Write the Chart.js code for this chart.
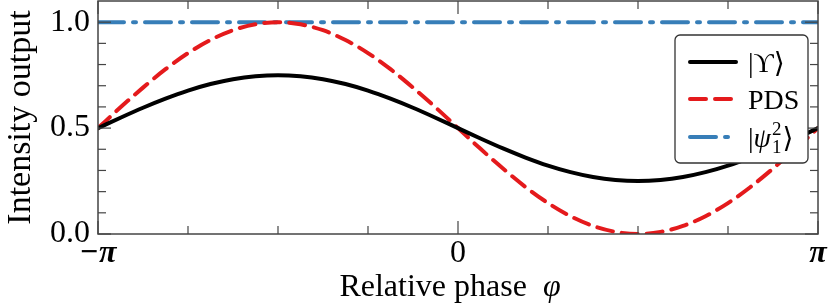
<!DOCTYPE html>
<html>
<head>
<meta charset="utf-8">
<title>Intensity output vs relative phase</title>
<script src="https://cdn.jsdelivr.net/npm/chart.js@4.4.1/dist/chart.umd.min.js"></script>
<style>
  html, body { margin: 0; padding: 0; background: #fff; }
  #wrap { width: 830px; height: 305px; position: relative; }
</style>
</head>
<body>
<div id="wrap"><canvas id="phaseChart"></canvas></div>
<script>
// relative phase in units of pi, read every pi/16
const phase = [
  -1, -0.9375, -0.875, -0.8125, -0.75, -0.6875, -0.625, -0.5625,
  -0.5, -0.4375, -0.375, -0.3125, -0.25, -0.1875, -0.125, -0.0625,
  0, 0.0625, 0.125, 0.1875, 0.25, 0.3125, 0.375, 0.4375,
  0.5, 0.5625, 0.625, 0.6875, 0.75, 0.8125, 0.875, 0.9375, 1
];
const upsilonValues = [
  0.500, 0.549, 0.596, 0.639, 0.677, 0.708, 0.731, 0.745,
  0.750, 0.745, 0.731, 0.708, 0.677, 0.639, 0.596, 0.549,
  0.500, 0.451, 0.404, 0.361, 0.323, 0.292, 0.269, 0.255,
  0.250, 0.255, 0.269, 0.292, 0.323, 0.361, 0.404, 0.451, 0.500
];
const pdsValues = [
  0.500, 0.598, 0.691, 0.778, 0.854, 0.916, 0.962, 0.990,
  1.000, 0.990, 0.962, 0.916, 0.854, 0.778, 0.691, 0.598,
  0.500, 0.402, 0.309, 0.222, 0.146, 0.084, 0.038, 0.010,
  0.000, 0.010, 0.038, 0.084, 0.146, 0.222, 0.309, 0.402, 0.500
];
const psiPhase = [-1, 1];
const psiValues = [1.0, 1.0];

const seriesNames = ['|ϒ⟩', 'PDS', '|ψ₁²⟩'];
const xTickValues = [-1, 0, 1];
const xTickLabels = ['−π', '0', 'π'];
const yTickValues = [0, 0.5, 1.0];
const yTickLabels = ['0.0', '0.5', '1.0'];
const xTitle = 'Relative phase';
const xTitleSymbol = 'φ';
const yTitle = 'Intensity output';

const SERIF = '"Liberation Serif", "DejaVu Serif", "DejaVu Sans", serif';
const AXIS_COLOR = '#444';

function findLabel(values, labels, v) {
  const i = values.findIndex(t => Math.abs(t - v) < 1e-6);
  return i >= 0 ? labels[i] : '';
}

function toPoints(xs, ys) {
  return xs.map((x, i) => ({ x: x, y: ys[i] }));
}

// inward ticks on all four sides, box frame, legend and x title
const framePlugin = {
  id: 'frameTicks',
  afterDatasetsDraw(chart) {
    const { ctx, chartArea: a, scales } = chart;
    const xs = scales.x, ys = scales.y;
    ctx.save();
    ctx.strokeStyle = AXIS_COLOR;
    ctx.lineWidth = 1.2;
    const seg = (x1, y1, x2, y2) => {
      ctx.beginPath(); ctx.moveTo(x1, y1); ctx.lineTo(x2, y2); ctx.stroke();
    };
    xs.ticks.forEach(t => {
      const px = xs.getPixelForValue(t.value);
      const len = findLabel(xTickValues, xTickLabels, t.value) ? 13 : 8;
      seg(px, a.bottom, px, a.bottom - len);
      seg(px, a.top, px, a.top + len);
    });
    ys.ticks.forEach(t => {
      const py = ys.getPixelForValue(t.value);
      if (py < a.top + 2) return;
      const len = findLabel(yTickValues, yTickLabels, t.value) ? 13 : 8;
      seg(a.left, py, a.left + len, py);
      seg(a.right, py, a.right - len, py);
    });
    ctx.lineWidth = 1.5;
    ctx.strokeRect(a.left, a.top, a.right - a.left, a.bottom - a.top);
    ctx.restore();
  },
  afterDraw(chart) {
    const { ctx, chartArea: a } = chart;
    ctx.save();

    // x axis title with italic phi
    ctx.fillStyle = '#000';
    ctx.textBaseline = 'alphabetic';
    ctx.font = '32px ' + SERIF;
    const w1 = ctx.measureText(xTitle + '  ').width;
    ctx.font = 'italic 32px ' + SERIF;
    const w2 = ctx.measureText(xTitleSymbol).width;
    let tx = (a.left + a.right) / 2 - 8 - (w1 + w2) / 2;
    ctx.font = '32px ' + SERIF;
    ctx.fillText(xTitle + '  ', tx, 296);
    ctx.font = 'italic 32px ' + SERIF;
    ctx.fillText(xTitleSymbol, tx + w1, 296);

    // legend box
    const bx = 675, by = 35, bw = 133, bh = 128;
    ctx.beginPath();
    ctx.roundRect(bx, by, bw, bh, 5);
    ctx.fillStyle = '#fff';
    ctx.fill();
    ctx.strokeStyle = '#333';
    ctx.lineWidth = 1.3;
    ctx.stroke();

    const rows = [62, 99, 137];
    chart.data.datasets.forEach((ds, i) => {
      const ry = rows[i];
      ctx.save();
      ctx.strokeStyle = ds.borderColor;
      ctx.lineWidth = ds.borderWidth;
      ctx.lineCap = ds.borderCapStyle || 'butt';
      ctx.setLineDash(ds.borderDash || []);
      ctx.beginPath();
      ctx.moveTo(690, ry);
      ctx.lineTo(736, ry);
      ctx.stroke();
      ctx.restore();
      drawLegendText(ctx, ds.label, 748, ry + 10);
    });
    ctx.restore();
  }
};

function drawLegendText(ctx, label, x, base) {
  ctx.fillStyle = '#000';
  ctx.textBaseline = 'alphabetic';
  const big = '28px ' + SERIF;
  const small = '19px ' + SERIF;
  if (label.indexOf('₁²') < 0) {
    ctx.font = big;
    ctx.fillText(label, x, base);
    return;
  }
  // |ψ with stacked sub 1 and sup 2, then ⟩
  let cx = x;
  ctx.font = big;
  ctx.fillText('|', cx, base);
  cx += ctx.measureText('|').width;
  ctx.font = 'italic ' + big;
  ctx.fillText('ψ', cx, base);
  cx += ctx.measureText('ψ').width + 1;
  ctx.font = small;
  ctx.fillText('2', cx, base - 12);
  ctx.fillText('1', cx, base + 6);
  cx += ctx.measureText('2').width + 1;
  ctx.font = big;
  ctx.fillText('⟩', cx, base);
}

const ctx = document.getElementById('phaseChart');
new Chart(ctx, {
  type: 'line',
  data: {
    datasets: [
      {
        label: seriesNames[0],
        data: toPoints(phase, upsilonValues),
        borderColor: '#000000',
        borderWidth: 4,
        borderCapStyle: 'round',
        cubicInterpolationMode: 'monotone',
        pointRadius: 0,
        clip: 0
      },
      {
        label: seriesNames[1],
        data: toPoints(phase, pdsValues),
        borderColor: '#e41a1c',
        borderWidth: 4,
        borderDash: [16, 9],
        borderCapStyle: 'round',
        cubicInterpolationMode: 'monotone',
        pointRadius: 0,
        clip: 0
      },
      {
        label: seriesNames[2],
        data: toPoints(psiPhase, psiValues),
        borderColor: '#377eb8',
        borderWidth: 4,
        borderDash: [26, 9, 3, 9],
        borderCapStyle: 'round',
        pointRadius: 0,
        clip: 0
      }
    ]
  },
  options: {
    responsive: true,
    maintainAspectRatio: false,
    devicePixelRatio: 1,
    animation: false,
    events: [],
    layout: { padding: { top: 1, right: 12, left: 0, bottom: 0 } },
    plugins: {
      legend: { display: false },
      tooltip: { enabled: false }
    },
    scales: {
      x: {
        type: 'linear',
        min: -1,
        max: 1,
        border: { display: false },
        grid: { display: false, drawTicks: false },
        ticks: {
          stepSize: 0.25,
          autoSkip: false,
          maxRotation: 0,
          padding: 4,
          color: '#000',
          font: c => ({
            family: SERIF,
            size: 32,
            lineHeight: 1.0,
            style: c.tick && c.tick.value !== 0 ? 'italic' : 'normal',
            weight: c.tick && c.tick.value !== 0 ? 'bold' : 'normal'
          }),
          callback: v => findLabel(xTickValues, xTickLabels, v)
        },
        afterFit: s => { s.height = 71; s.paddingLeft = 0; s.paddingRight = 0; }
      },
      y: {
        min: 0,
        max: 1.1,
        border: { display: false },
        grid: { display: false, drawTicks: false },
        ticks: {
          stepSize: 0.1,
          autoSkip: false,
          padding: 8,
          color: '#000',
          font: { family: SERIF, size: 32, lineHeight: 1.0 },
          callback: v => findLabel(yTickValues, yTickLabels, v)
        },
        title: {
          display: true,
          text: yTitle,
          color: '#000',
          font: { family: SERIF, size: 34, lineHeight: 1.0 },
          padding: { top: 4, bottom: 0 }
        },
        afterFit: s => { s.width = 98; s.paddingTop = 0; s.paddingBottom = 0; }
      }
    }
  },
  plugins: [framePlugin]
});
</script>
</body>
</html>
